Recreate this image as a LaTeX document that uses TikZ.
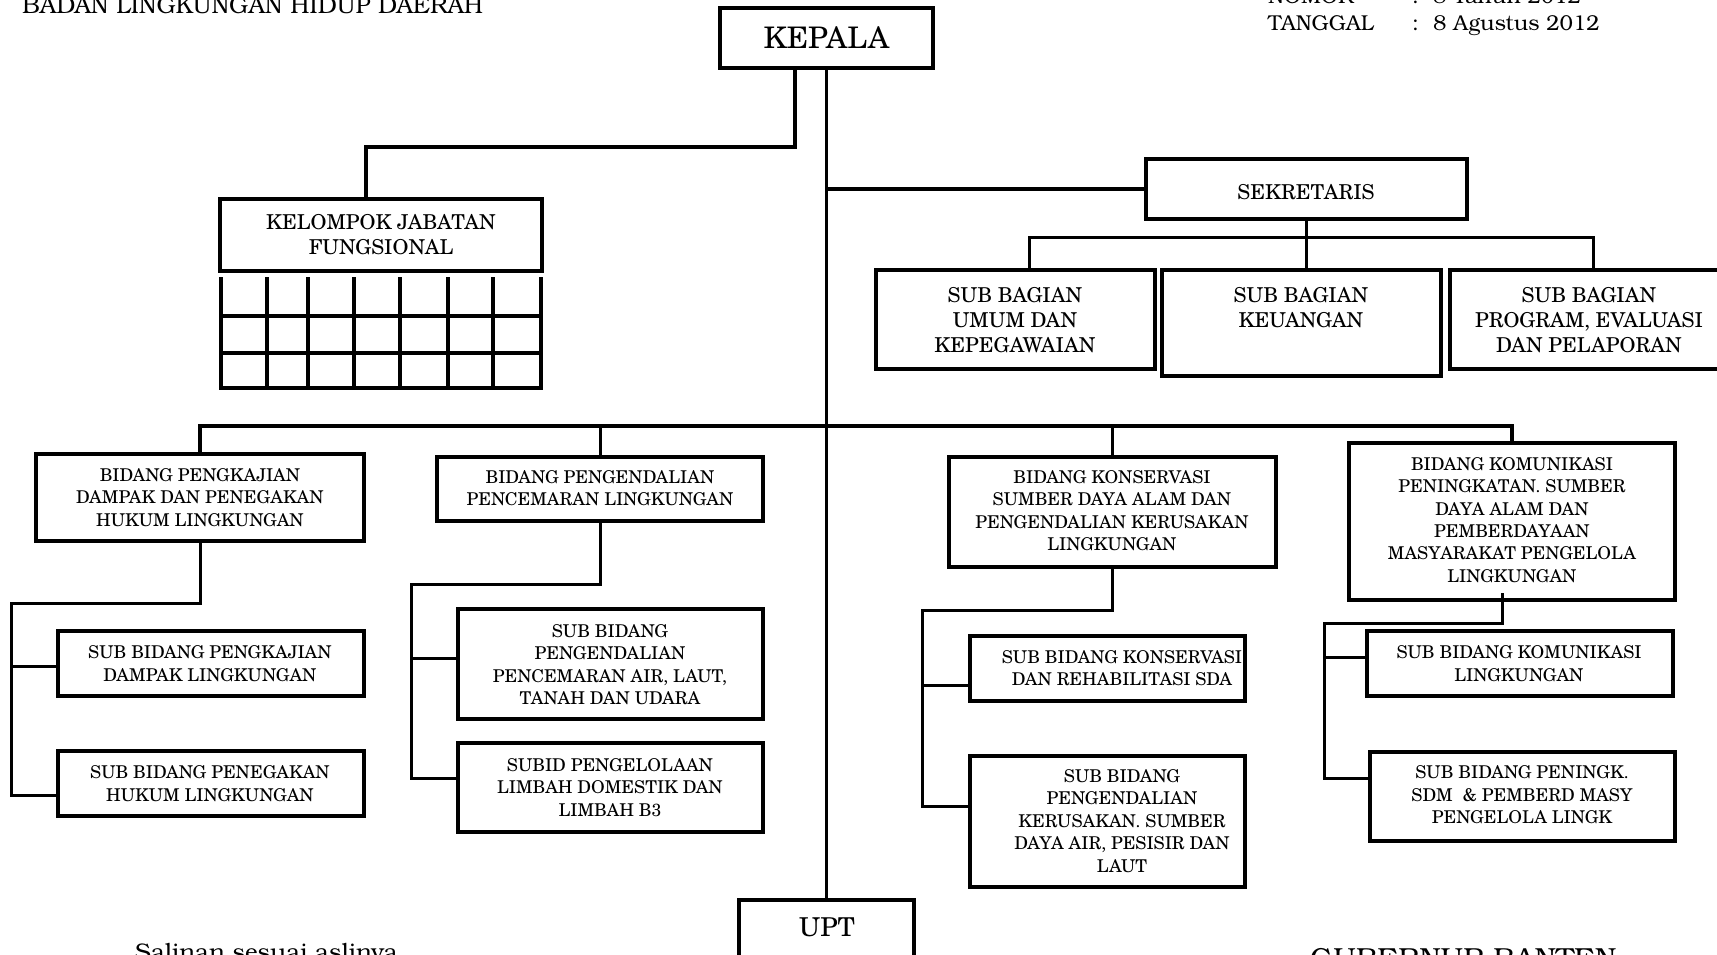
\documentclass[tikz,border=0pt]{standalone}
\usepackage{fontspec}
\setmainfont{texgyreschola}[Extension=.otf,UprightFont=*-regular,BoldFont=*-bold,ItalicFont=*-italic,BoldItalicFont=*-bolditalic]
\newfontfamily\bonum{texgyrebonum}[Extension=.otf,UprightFont=*-regular,BoldFont=*-bold,ItalicFont=*-italic,BoldItalicFont=*-bolditalic]
\usetikzlibrary{fit}
\tikzset{
  box/.style={draw, line width=3.5pt, inner sep=0pt},
  conn/.style={line width=3.5pt},
  sconn/.style={line width=3pt},
  gridline/.style={line width=4pt},
  lab/.style={align=center, inner sep=0pt, font=\fontsize{17.6}{22.4}\selectfont},
  labb/.style={align=center, inner sep=0pt, font=\fontsize{20.5}{25}\selectfont},
  tt/.style={inner sep=0pt, anchor=base west, font=\bonum\fontsize{21.5}{26}\selectfont},
}
\begin{document}
\begin{tikzpicture}[x=1pt, y=-1pt]
\useasboundingbox (0,0) rectangle (1717,954);
\fill[white] (0,0) rectangle (1717,954);

% header texts
\node[inner sep=0pt, anchor=base west, font=\bonum\fontsize{24}{28}\selectfont] (title) at (22,13) {BADAN LINGKUNGAN HIDUP DAERAH};
\node[tt] (nomor) at (1268,3.5) {NOMOR};
\node[tt] (nomorc) at (1412,3.5) {:};
\node[tt] (nomorv) at (1433,3.5) {8 Tahun 2012};
\node[tt] (tgl) at (1268,30.5) {TANGGAL};
\node[tt] (tglc) at (1412,30.5) {:};
\node[tt] (tglv) at (1433,30.5) {8 Agustus 2012};
\node[inner sep=0pt, anchor=base west, font=\bonum\fontsize{24}{28}\selectfont] (salinan) at (135,960.5) {Salinan sesuai aslinya};
\node[inner sep=0pt, anchor=base west, font=\bonum\fontsize{29}{33}\selectfont] (gub) at (1310,968) {GUBERNUR BANTEN};

% boxes
\node[box, fit={(720,8) (933,68)}] (kepala) {};
\node[box, fit={(220,199) (542,271)}] (kel) {};
\node[box, fit={(1146,159) (1467,219)}] (sek) {};
\node[box, fit={(876,270) (1155,369)}] (sb1) {};
\node[box, fit={(1162,270) (1441,376)}] (sb2) {};
\node[box, fit={(1450,270) (1729,369)}] (sb3) {};
\node[box, fit={(36,454) (364,541)}] (b1) {};
\node[box, fit={(437,457) (763,521)}] (b2) {};
\node[box, fit={(949,457) (1276,567)}] (b3) {};
\node[box, fit={(1349,443) (1675,600)}] (b4) {};
\node[box, fit={(58,631) (364,696)}] (sb11) {};
\node[box, fit={(58,751) (364,816)}] (sb12) {};
\node[box, fit={(458,609) (763,719)}] (sb21) {};
\node[box, fit={(458,743) (763,832)}] (sb22) {};
\node[box, fit={(970,636) (1245,701)}] (sb31) {};
\node[box, fit={(970,756) (1245,887)}] (sb32) {};
\node[box, fit={(1367,631) (1673,696)}] (sb41) {};
\node[box, fit={(1370,752) (1675,841)}] (sb42) {};
\node[box, fit={(739,900) (914,975)}] (upt) {};

% texts in boxes
\node[inner sep=0pt, font=\fontsize{29.7}{34}\selectfont] (kepalat) at (826.5,38) {KEPALA};
\node[inner sep=0pt, font=\fontsize{26}{30}\selectfont] (uptt) at (827,927) {UPT};
\node[labb] (kelt) at (381,234.5) {KELOMPOK JABATAN\\FUNGSIONAL};
\node[labb] (sekt) at (1306,192) {SEKRETARIS};
\node[labb] (sb1t) at (1015,320) {SUB BAGIAN\\UMUM DAN\\KEPEGAWAIAN};
\node[labb] (sb2t) at (1301,307.5) {SUB BAGIAN\\KEUANGAN};
\node[labb] (sb3t) at (1589,320) {SUB BAGIAN\\PROGRAM, EVALUASI\\DAN PELAPORAN};
\node[lab] (b1t) at (200,497.5) {BIDANG PENGKAJIAN\\DAMPAK DAN PENEGAKAN\\HUKUM LINGKUNGAN};
\node[lab] (b2t) at (600,488) {BIDANG PENGENDALIAN\\PENCEMARAN LINGKUNGAN};
\node[lab] (b3t) at (1112,510.5) {BIDANG KONSERVASI\\SUMBER DAYA ALAM DAN\\PENGENDALIAN KERUSAKAN\\LINGKUNGAN};
\node[lab] (b4t) at (1512,520) {BIDANG KOMUNIKASI\\PENINGKATAN. SUMBER\\DAYA ALAM DAN\\PEMBERDAYAAN\\MASYARAKAT PENGELOLA\\LINGKUNGAN};
\node[lab] (sb11t) at (210,663.5) {SUB BIDANG PENGKAJIAN\\DAMPAK LINGKUNGAN};
\node[lab] (sb12t) at (210,783.5) {SUB BIDANG PENEGAKAN\\HUKUM LINGKUNGAN};
\node[lab] (sb21t) at (610,664.5) {SUB BIDANG\\PENGENDALIAN\\PENCEMARAN AIR, LAUT,\\TANAH DAN UDARA};
\node[lab] (sb22t) at (610,787.5) {SUBID PENGELOLAAN\\LIMBAH DOMESTIK DAN\\LIMBAH B3};
\node[lab] (sb31t) at (1122,668) {SUB BIDANG KONSERVASI\\DAN REHABILITASI SDA};
\node[lab] (sb32t) at (1122,821) {SUB BIDANG\\PENGENDALIAN\\KERUSAKAN. SUMBER\\DAYA AIR, PESISIR DAN\\LAUT};
\node[lab] (sb41t) at (1519,663.5) {SUB BIDANG KOMUNIKASI\\LINGKUNGAN};
\node[lab] (sb42t) at (1522,795) {SUB BIDANG PENINGK.\\SDM\ \ \& PEMBERD MASY\\PENGELOLA LINGK};

% grid under kelompok jabatan fungsional
\foreach \x in {221,267,308,354,400,448,493,541} \draw[gridline] (\x,277) -- (\x,390);
\foreach \y in {316,353,388} \draw[gridline] (221,\y) -- (541,\y);

% connectors
\coordinate (kj1) at (795,147);
\coordinate (kj2) at (366,147);
\draw[conn] (kepala.south -| kj1) -- (kj1) -- (kj2) -- (kj2 |- kel.north);
\draw[conn] (kepala.south) -- (upt.north);
\draw[conn] (sek.west) -- (sek.west -| kepala.south);
\coordinate (sbl) at (1029,237);
\coordinate (sbr) at (1593,237);
\draw[sconn] (sek.south) -- (sek.south |- sb2.north);
\draw[sconn] (sbl |- sb1.north) -- (sbl) -- (sbr) -- (sbr |- sb3.north);

\coordinate (bar) at (0,426);
\draw[conn] (b1.north) -- (b1.north |- bar) -- (b4.north |- bar) -- (b4.north);
\draw[sconn] (b2.north) -- (b2.north |- bar);
\draw[sconn] (b3.north) -- (b3.north |- bar);

% bidang 1
\coordinate (c1top) at (11,603);
\coordinate (c1y1) at (11,666);
\coordinate (c1y2) at (11,795);
\draw[sconn] (b1.south) -- (b1.south |- c1top) -- (c1top) -- (c1y2) -- (c1y2 -| sb12.west);
\draw[sconn] (c1y1) -- (c1y1 -| sb11.west);
% bidang 2
\coordinate (c2top) at (411,584);
\coordinate (c2y1) at (411,658);
\coordinate (c2y2) at (411,778);
\draw[sconn] (b2.south) -- (b2.south |- c2top) -- (c2top) -- (c2y2) -- (c2y2 -| sb22.west);
\draw[sconn] (c2y1) -- (c2y1 -| sb21.west);
% bidang 3
\coordinate (c3top) at (922,610);
\coordinate (c3y1) at (922,685);
\coordinate (c3y2) at (922,806);
\draw[sconn] (b3.south) -- (b3.south |- c3top) -- (c3top) -- (c3y2) -- (c3y2 -| sb32.west);
\draw[sconn] (c3y1) -- (c3y1 -| sb31.west);
% bidang 4
\coordinate (c4s) at (1502,593);
\coordinate (c4top) at (1324,623);
\coordinate (c4y1) at (1324,657);
\coordinate (c4y2) at (1324,778);
\draw[sconn] (c4s) -- (c4s |- c4top) -- (c4top) -- (c4y2) -- (c4y2 -| sb42.west);
\draw[sconn] (c4y1) -- (c4y1 -| sb41.west);
\end{tikzpicture}
\end{document}
